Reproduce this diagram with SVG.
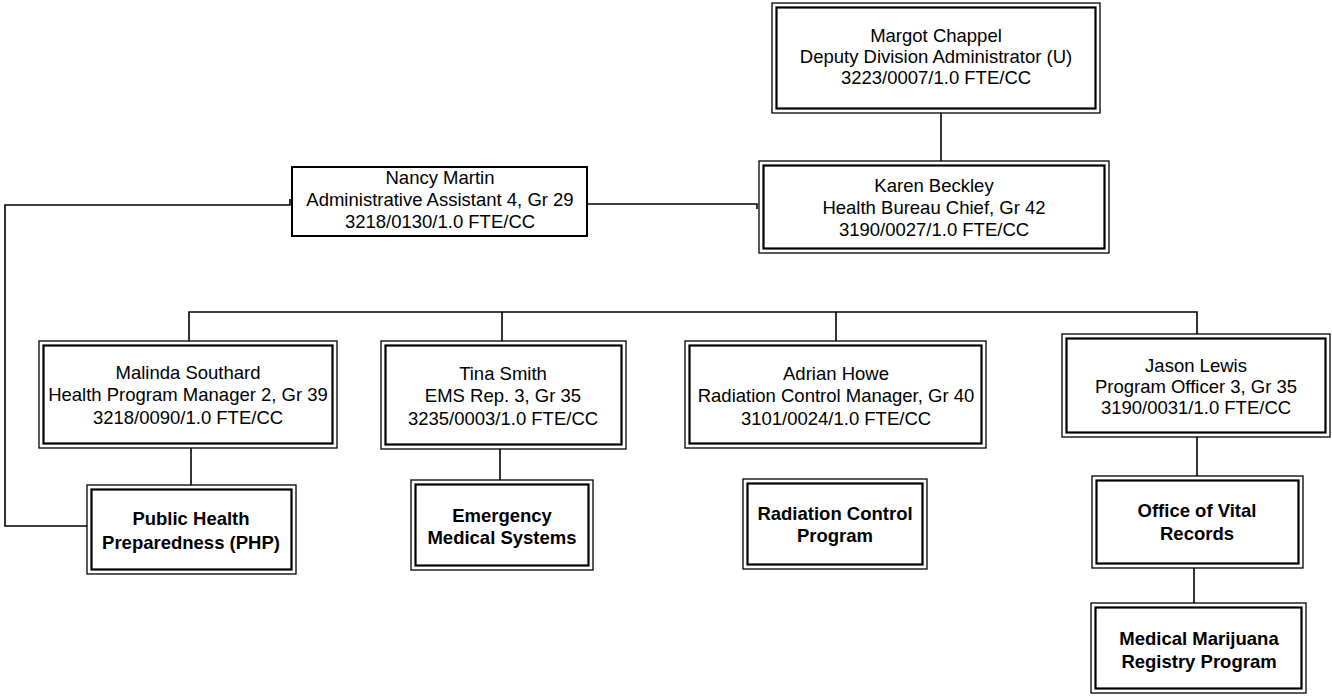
<svg xmlns="http://www.w3.org/2000/svg" width="1332" height="696" viewBox="0 0 1332 696">
<style>
.o{fill:#fff;stroke:#000;stroke-width:1.3}
.i{fill:none;stroke:#000;stroke-width:2.2}
.s{fill:#fff;stroke:#000;stroke-width:2}
.t{font-family:"Liberation Sans",Arial,sans-serif;font-size:18.5px;text-anchor:middle;fill:#000}
.b{font-family:"Liberation Sans",Arial,sans-serif;font-size:18.5px;font-weight:bold;text-anchor:middle;fill:#000}
.c{fill:none;stroke:#000;stroke-width:1.6}
</style>
<rect width="1332" height="696" fill="#fff"/>
<g id="connectors">
<path class="c" d="M941,113 V161"/>
<path class="c" d="M587,204 H757 V209"/>
<path class="c" d="M290,199 V205 H5 V526 H87"/>
<path class="c" d="M189,341 V312 H1197 V334"/>
<path class="c" d="M502,312 V341"/>
<path class="c" d="M836,312 V341"/>
<path class="c" d="M191,448 V485"/>
<path class="c" d="M500,449 V480"/>
<path class="c" d="M1197,437 V476"/>
<path class="c" d="M1194,568 V603"/>
</g>
<g id="margot">
<rect class="o" x="772" y="3" width="328" height="110"/>
<rect class="i" x="776.5" y="7.5" width="319" height="101"/>
<text class="t" x="936" y="41.5">Margot Chappel</text>
<text class="t" x="936" y="62.5">Deputy Division Administrator (U)</text>
<text class="t" x="936" y="83.5">3223/0007/1.0 FTE/CC</text>
</g>
<g id="karen">
<rect class="o" x="759" y="161" width="350" height="92"/>
<rect class="i" x="763.5" y="165.5" width="341" height="83"/>
<text class="t" x="934" y="192">Karen Beckley</text>
<text class="t" x="934" y="214">Health Bureau Chief, Gr 42</text>
<text class="t" x="934" y="236">3190/0027/1.0 FTE/CC</text>
</g>
<g id="nancy">
<rect class="s" x="292" y="167" width="295" height="69"/>
<text class="t" x="440" y="183.5">Nancy Martin</text>
<text class="t" x="440" y="205.5">Administrative Assistant 4, Gr 29</text>
<text class="t" x="440" y="227.5">3218/0130/1.0 FTE/CC</text>
</g>
<g id="malinda">
<rect class="o" x="39" y="341" width="298" height="107"/>
<rect class="i" x="43.5" y="345.5" width="289" height="98"/>
<text class="t" x="188" y="378.5">Malinda Southard</text>
<text class="t" x="188" y="400.5">Health Program Manager 2, Gr 39</text>
<text class="t" x="188" y="423.5">3218/0090/1.0 FTE/CC</text>
</g>
<g id="tina">
<rect class="o" x="381" y="341" width="245" height="108"/>
<rect class="i" x="385.5" y="345.5" width="236" height="99"/>
<text class="t" x="503" y="379.5">Tina Smith</text>
<text class="t" x="503" y="401.5">EMS Rep. 3, Gr 35</text>
<text class="t" x="503" y="424.5">3235/0003/1.0 FTE/CC</text>
</g>
<g id="adrian">
<rect class="o" x="685" y="341" width="301" height="107"/>
<rect class="i" x="689.5" y="345.5" width="292" height="98"/>
<text class="t" x="836" y="379.5">Adrian Howe</text>
<text class="t" x="836" y="401.5">Radiation Control Manager, Gr 40</text>
<text class="t" x="836" y="424.5">3101/0024/1.0 FTE/CC</text>
</g>
<g id="jason">
<rect class="o" x="1062" y="334" width="268" height="103"/>
<rect class="i" x="1066.5" y="338.5" width="259" height="94"/>
<text class="t" x="1196" y="371.5">Jason Lewis</text>
<text class="t" x="1196" y="392.5">Program Officer 3, Gr 35</text>
<text class="t" x="1196" y="413.5">3190/0031/1.0 FTE/CC</text>
</g>
<g id="php">
<rect class="o" x="87" y="485" width="209" height="89"/>
<rect class="i" x="91.5" y="489.5" width="200" height="80"/>
<text class="b" x="191" y="525">Public Health</text>
<text class="b" x="191" y="549">Preparedness (PHP)</text>
</g>
<g id="ems">
<rect class="o" x="411" y="480" width="182" height="90"/>
<rect class="i" x="415.5" y="484.5" width="173" height="81"/>
<text class="b" x="502" y="522">Emergency</text>
<text class="b" x="502" y="544">Medical Systems</text>
</g>
<g id="rcp">
<rect class="o" x="743" y="479" width="184" height="90"/>
<rect class="i" x="747.5" y="483.5" width="175" height="81"/>
<text class="b" x="835" y="520">Radiation Control</text>
<text class="b" x="835" y="542">Program</text>
</g>
<g id="ovr">
<rect class="o" x="1092" y="476" width="211" height="92"/>
<rect class="i" x="1096.5" y="480.5" width="202" height="83"/>
<text class="b" x="1197" y="517">Office of Vital</text>
<text class="b" x="1197" y="540">Records</text>
</g>
<g id="mmr">
<rect class="o" x="1091" y="603" width="215" height="90"/>
<rect class="i" x="1095.5" y="607.5" width="206" height="81"/>
<text class="b" x="1199" y="645">Medical Marijuana</text>
<text class="b" x="1199" y="668">Registry Program</text>
</g>
</svg>
